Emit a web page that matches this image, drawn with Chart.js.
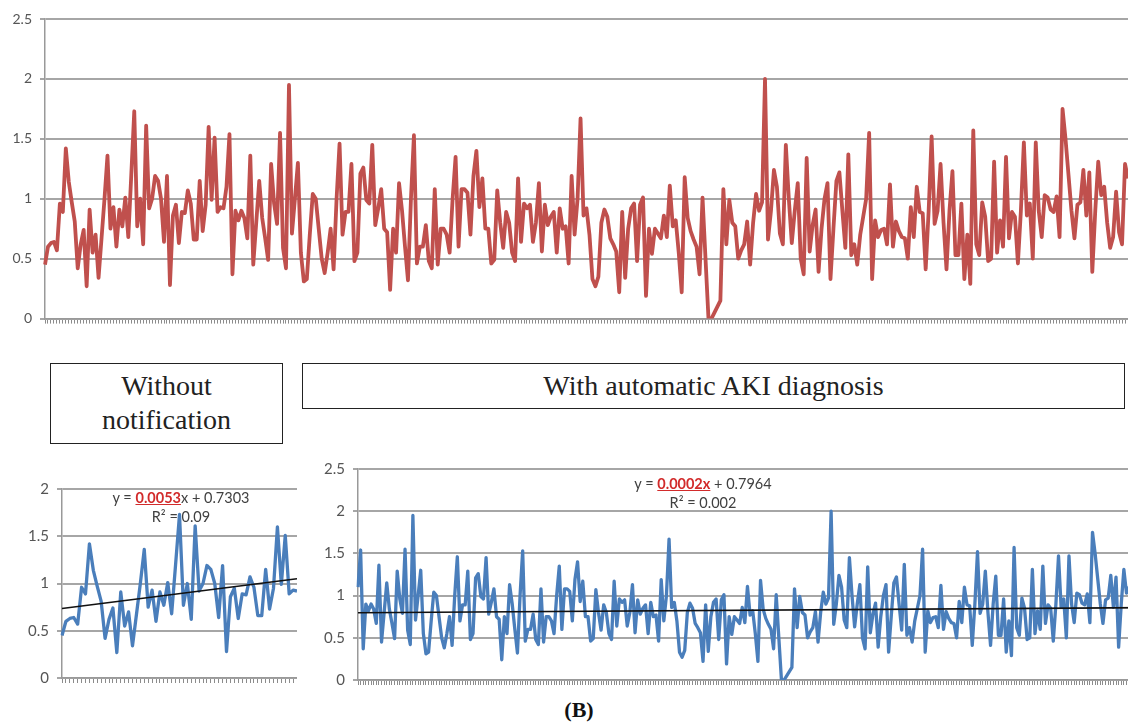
<!DOCTYPE html>
<html lang="en">
<head>
<meta charset="UTF-8">
<title>AKI diagnosis - daily values</title>
<script src="https://cdn.jsdelivr.net/npm/chart.js"></script>
<style>
    html, body { margin: 0; padding: 0; background: #fff; overflow: hidden; width: 1128px; height: 722px; }
    .chart { position: absolute; }
    .box { position: absolute; box-sizing: border-box; border: 1.5px solid #222; font-family: "Liberation Serif", serif; font-size: 28px; color: #222; text-align: center; }
    .eq { position: absolute; transform: translateX(-50%); font-family: Lato, sans-serif; font-size: 14.5px; line-height: 19px; color: #404040; text-align: center; white-space: nowrap; }
    .eq b { color: #d22b2b; text-decoration: underline; }
    .label-b { position: absolute; left: 579px; top: 698px; transform: translateX(-50%); font-family: "Liberation Serif", serif; font-weight: bold; font-size: 22px; line-height: 24px; color: #111; }
</style>
</head>
<body>
    <div class="chart" style="left:0; top:0; width:1128px; height:335px;"><canvas id="allChart"></canvas></div>

    <div class="box" style="left:50px; top:363px; width:233px; height:81px; padding-top:5px; line-height:34px;">Without<br>notification</div>
    <div class="box" style="left:302px; top:363px; width:823px; height:46px; line-height:43px;">With automatic AKI diagnosis</div>

    <div class="chart" style="left:0; top:470px; width:297px; height:225px;"><canvas id="beforeChart"></canvas></div>
    <div class="chart" style="left:300px; top:450px; width:850px; height:247px;"><canvas id="afterChart"></canvas></div>

    <div class="eq" style="left:181px; top:488px;">y = <b>0.0053</b>x + 0.7303<br>R² = 0.09</div>
    <div class="eq" style="left:703px; top:474px;">y = <b>0.0002x</b> + 0.7964<br>R² = 0.002</div>

    <div class="label-b">(B)</div>

<script>
// daily values, period without notification
const withoutNotification = [
    0.45, 0.60, 0.63, 0.64, 0.57, 0.96, 0.89, 1.42, 1.14, 0.97,
    0.81, 0.42, 0.62, 0.74, 0.27, 0.91, 0.55, 0.70, 0.34, 0.67,
    1.00, 1.36, 0.75, 0.93, 0.60, 0.91, 0.77, 1.01, 0.68, 1.20,
    1.73, 0.77, 1.00, 0.62, 1.61, 0.92, 1.00, 1.19, 1.15, 1.00,
    0.64, 1.19, 0.28, 0.86, 0.95, 0.63, 0.89, 0.88, 1.07, 0.96,
    0.66, 0.66, 1.15, 0.73, 0.95, 1.60, 0.99, 1.51, 0.89, 0.93,
    0.92
];

// daily values, period with automatic AKI diagnosis
const withAutoDiagnosis = [
    1.10, 1.54, 0.37, 0.90, 0.82, 0.90, 0.84, 0.67, 1.36, 0.45, 0.80, 1.15, 0.84, 0.67, 0.49, 1.29, 0.96, 0.79, 1.55, 0.59, 0.42, 1.95,
    0.71, 1.00, 1.30, 0.55, 0.31, 0.33, 0.70, 1.04, 1.00, 0.75, 0.50, 0.38, 0.55, 0.75, 0.41, 1.00, 1.46, 0.70, 0.89, 0.89,
    1.29, 0.48, 0.55, 1.21, 1.26, 0.99, 0.96, 1.45, 0.78, 0.92, 1.08, 0.75, 0.72, 0.24, 0.75, 0.55, 1.13, 0.90, 0.60, 0.32,
    1.00, 1.53, 0.46, 0.60, 0.60, 0.78, 0.48, 0.42, 1.08, 0.45, 0.75, 0.75, 0.70, 0.55, 1.00, 1.35, 0.60, 1.08, 1.08, 1.05,
    0.70, 1.19, 1.40, 0.93, 1.17, 0.75, 0.75, 0.46, 0.49, 1.07, 0.80, 0.59, 0.89, 0.80, 0.55, 0.48, 1.17, 0.64, 0.96, 0.92,
    0.95, 0.64, 0.80, 1.13, 0.56, 0.95, 0.78, 0.85, 0.89, 0.55, 0.92, 0.75, 0.77, 0.46,
    1.19, 0.70, 1.00, 1.67, 0.86, 0.92, 0.70, 0.33, 0.27, 0.35, 0.80, 0.91, 0.85, 0.67, 0.62, 0.56, 0.22, 0.89, 0.34, 0.75,
    0.92, 0.96, 0.48, 0.95, 1.01, 0.19, 0.75, 0.54, 0.75, 0.71, 0.67, 0.86, 0.68, 1.11, 0.77, 0.82, 0.55, 0.22, 1.18, 0.84,
    0.73, 0.66, 0.60, 0.37, 1.01, 0.50, 0.00, 0.00, 0.05, 0.10, 0.15, 1.08, 0.62, 0.99, 0.80, 0.77, 0.50, 0.57, 0.62, 0.81,
    0.45, 0.80, 1.04, 0.90, 0.97, 2.00, 0.66, 0.90, 1.24, 1.10, 0.71, 0.62, 1.45, 1.00, 0.63, 0.90, 1.13, 0.50, 0.37, 1.34,
    0.56, 0.78, 0.91, 0.39, 0.75, 1.00, 1.13, 0.33, 0.75, 1.15, 1.22, 0.90, 0.59, 1.37,
    0.53, 0.62, 0.45, 0.70, 0.85, 1.00, 1.55, 0.33, 0.82, 0.68, 0.74, 0.75, 0.62, 1.12, 0.60, 0.81, 0.73, 0.68, 0.67, 0.50,
    0.93, 0.68, 1.10, 0.89, 0.88, 0.41, 0.90, 1.52, 0.79, 0.90, 1.29, 0.80, 0.41, 0.90, 1.23, 0.53, 0.53, 0.96, 0.33, 0.70,
    0.29, 1.57, 0.62, 0.53, 0.97, 0.85, 0.48, 0.50, 1.31, 0.55, 0.82, 0.60, 1.35, 0.67, 0.89, 0.85, 0.46, 0.90, 1.47, 0.86,
    0.96, 0.50, 1.47, 0.90, 0.68, 1.03, 1.01, 0.91, 0.89, 1.02, 0.68, 1.75, 1.50, 1.20, 0.90, 0.67, 0.95, 0.97, 1.24, 0.86,
    1.22, 0.39, 0.90, 1.31, 1.03, 1.10, 0.80, 0.59, 0.68, 1.06, 0.72, 0.62, 1.29, 1.17
];

// trend line ends (first and last day) as drawn in the figure
const beforeTrend = [0.735, 1.05];
const afterTrend = [0.797, 0.857];

const allDays = withoutNotification.concat(withAutoDiagnosis);

function dayLabels(n) {
    const labels = [];
    for (let i = 1; i <= n; i++) labels.push(String(i));
    return labels;
}

function trendData(n, ends) {
    const d = new Array(n).fill(null);
    d[0] = ends[0];
    d[n - 1] = ends[1];
    return d;
}

function lineChart(id, values, color, width, yMax, fontSize, yWidth, trend) {
    const datasets = [];
    if (trend) {
        datasets.push({
            data: trendData(values.length, trend),
            borderColor: '#111',
            borderWidth: 1.6,
            pointRadius: 0,
            spanGaps: true
        });
    }
    datasets.push({
        data: values,
        borderColor: color,
        borderWidth: width,
        pointRadius: 0,
        tension: 0,
        borderJoinStyle: 'round'
    });

    new Chart(document.getElementById(id), {
        type: 'line',
        data: { labels: dayLabels(values.length), datasets: datasets },
        options: {
            responsive: true,
            maintainAspectRatio: false,
            animation: false,
            events: [],
            layout: { padding: { top: 19, right: 0, bottom: 0, left: 0 } },
            plugins: { legend: { display: false }, tooltip: { enabled: false } },
            scales: {
                x: {
                    ticks: { display: false },
                    grid: { drawOnChartArea: false, drawTicks: true, tickLength: 5, color: '#8c8c8c', lineWidth: 1 },
                    border: { color: '#999', width: 1.5 },
                    afterFit: function (scale) { scale.height = 14; }
                },
                y: {
                    min: 0,
                    max: yMax,
                    ticks: {
                        stepSize: 0.5,
                        padding: 8,
                        color: '#555',
                        font: { family: 'Lato', size: fontSize },
                        callback: function (value) { return String(value); }
                    },
                    grid: { color: '#a6a6a6', lineWidth: 2, tickLength: 5 },
                    border: { color: '#999', width: 1.5 },
                    afterFit: function (scale) { scale.width = yWidth; }
                }
            }
        }
    });
}

lineChart('allChart', allDays, '#c0504d', 3.8, 2.5, 14, 45, null);
lineChart('beforeChart', withoutNotification, '#4a7ebb', 3.3, 2, 15, 62, beforeTrend);
lineChart('afterChart', withAutoDiagnosis, '#4a7ebb', 3.3, 2.5, 15, 58, afterTrend);
</script>
</body>
</html>
